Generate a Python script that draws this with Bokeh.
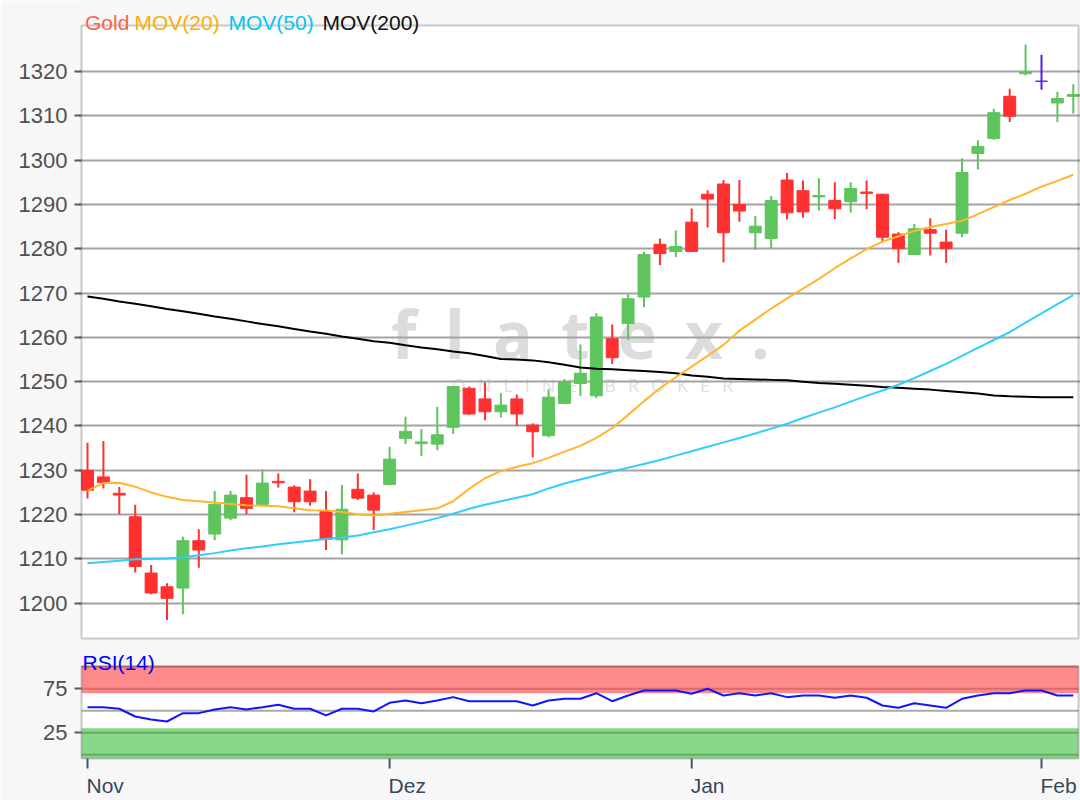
from bokeh.plotting import figure
from bokeh.models import (Range1d, FixedTicker, Label, LabelSet, BoxAnnotation,
                          ColumnDataSource, NumeralTickFormatter)
from bokeh.core.properties import value
from bokeh.embed import file_html
from bokeh.resources import INLINE

# ---------------- data ----------------
opens = [1230.0, 1228.5, 1224.8, 1219.5, 1206.8, 1203.7, 1203.4, 1214.1, 1215.6, 1219.2,
         1223.8, 1222.3, 1227.5, 1226.2, 1225.3, 1220.8, 1214.3, 1225.7, 1224.4, 1226.8,
         1237.2, 1236.0, 1235.9, 1239.7, 1248.5, 1246.1, 1243.2, 1246.1, 1240.2, 1237.8,
         1245.1, 1249.6, 1246.8, 1259.7, 1263.1, 1269.1, 1281.0, 1279.4, 1286.0, 1292.3,
         1294.6, 1290.0, 1283.6, 1282.3, 1295.5, 1293.1, 1291.7, 1290.9, 1290.6, 1292.8,
         1292.3, 1283.3, 1278.7, 1284.3, 1281.5, 1283.5, 1301.5, 1304.9, 1314.4, 1319.5,
         1317.8, 1312.9, 1314.4]
highs = [1236.2, 1236.6, 1226.2, 1222.2, 1208.6, 1204.5, 1215.0, 1216.7, 1225.3, 1225.3,
         1229.0, 1230.2, 1229.3, 1226.6, 1228.0, 1225.3, 1226.7, 1229.3, 1225.0, 1235.3,
         1242.1, 1239.3, 1244.3, 1249.0, 1248.9, 1249.8, 1247.4, 1247.1, 1240.6, 1248.3,
         1250.6, 1258.4, 1265.5, 1262.9, 1269.7, 1279.3, 1282.3, 1284.1, 1289.1, 1293.2,
         1295.5, 1295.5, 1287.4, 1291.9, 1297.1, 1295.4, 1295.9, 1295.0, 1295.0, 1295.4,
         1292.4, 1283.7, 1285.6, 1286.9, 1284.3, 1300.4, 1304.5, 1311.6, 1316.1, 1326.1,
         1323.8, 1315.4, 1317.1]
lows = [1223.6, 1225.9, 1220.1, 1206.9, 1202.0, 1196.2, 1197.5, 1208.0, 1214.2, 1218.7,
        1220.1, 1222.0, 1226.1, 1220.5, 1222.0, 1212.0, 1211.0, 1223.3, 1216.5, 1226.8,
        1235.9, 1233.2, 1234.5, 1238.2, 1242.5, 1241.3, 1241.9, 1240.0, 1232.9, 1237.4,
        1245.0, 1246.8, 1246.3, 1254.0, 1259.4, 1266.8, 1276.3, 1278.1, 1279.2, 1284.8,
        1276.9, 1286.1, 1279.7, 1280.1, 1286.6, 1287.0, 1288.6, 1286.7, 1288.2, 1288.9,
        1281.5, 1276.8, 1278.6, 1278.5, 1276.8, 1282.6, 1297.9, 1304.6, 1308.6, 1319.1,
        1315.9, 1308.6, 1310.5]
closes = [1225.5, 1227.2, 1224.4, 1208.3, 1202.3, 1201.1, 1214.1, 1212.0, 1222.3, 1224.4,
          1221.4, 1227.1, 1227.2, 1222.9, 1222.9, 1214.4, 1221.2, 1223.7, 1221.0, 1232.5,
          1238.8, 1236.4, 1238.0, 1248.9, 1242.7, 1243.2, 1244.7, 1242.7, 1238.7, 1246.5,
          1250.0, 1251.9, 1264.6, 1255.4, 1268.7, 1278.7, 1278.9, 1280.5, 1279.4, 1291.2,
          1283.6, 1288.5, 1285.1, 1290.9, 1288.1, 1288.3, 1292.0, 1289.0, 1293.6, 1292.5,
          1282.6, 1280.0, 1284.5, 1283.5, 1280.0, 1297.2, 1303.1, 1310.7, 1309.9, 1319.9,
          1317.8, 1313.9, 1314.8]

mov20 = [1225.4, 1227.1, 1227.2, 1226.3, 1225.0, 1224.0, 1223.3, 1223.0, 1222.7, 1222.4,
         1222.1, 1222.0, 1221.9, 1221.4, 1221.0, 1220.9, 1220.6, 1220.1, 1219.8, 1220.2,
         1220.6, 1221.0, 1221.4, 1223.0, 1225.8, 1228.2, 1229.8, 1230.8, 1231.6, 1232.8,
         1234.2, 1235.5, 1237.3, 1239.5, 1242.5, 1245.6, 1248.5, 1251.0, 1253.4, 1255.8,
         1258.3, 1261.5, 1264.0, 1266.5, 1268.8, 1271.0, 1273.2, 1275.6, 1277.8, 1279.9,
         1281.6, 1282.8, 1284.0, 1284.9, 1285.6, 1286.3, 1287.8, 1289.4, 1291.0, 1292.4,
         1294.0, 1295.3, 1296.7]
mov50 = [1209.0, 1209.3, 1209.6, 1209.9, 1210.0, 1210.1, 1210.3, 1210.8, 1211.3, 1211.9,
         1212.4, 1212.8, 1213.3, 1213.7, 1214.1, 1214.5, 1214.8, 1215.3, 1216.0, 1216.7,
         1217.5, 1218.3, 1219.2, 1220.2, 1221.3, 1222.2, 1223.0, 1223.8, 1224.6, 1225.9,
         1227.0, 1227.9, 1228.8, 1229.7, 1230.6, 1231.4, 1232.3, 1233.3, 1234.3, 1235.3,
         1236.3, 1237.3, 1238.3, 1239.4, 1240.5, 1241.8, 1243.0, 1244.2, 1245.5, 1246.8,
         1248.0, 1249.3, 1250.8, 1252.4, 1254.0, 1255.8, 1257.6, 1259.4, 1261.2, 1263.3,
         1265.4, 1267.5, 1269.5]
mov200 = [1269.2, 1268.7, 1268.1, 1267.6, 1267.0, 1266.4, 1265.9, 1265.3, 1264.7, 1264.2,
          1263.6, 1263.0, 1262.5, 1261.9, 1261.3, 1260.8, 1260.2, 1259.7, 1259.1, 1258.8,
          1258.2, 1257.7, 1257.3, 1256.8, 1256.4, 1255.8, 1255.1, 1255.0, 1254.8, 1254.4,
          1253.8, 1253.2, 1252.9, 1252.8, 1252.6, 1252.4, 1252.2, 1251.9, 1251.4, 1251.1,
          1250.7, 1250.6, 1250.5, 1250.4, 1250.3, 1250.0, 1249.7, 1249.5, 1249.3, 1249.1,
          1248.8, 1248.6, 1248.4, 1248.2, 1247.9, 1247.6, 1247.3, 1246.9, 1246.7, 1246.6,
          1246.5, 1246.5, 1246.5]
rsi14 = [54.1, 54.1, 52.3, 43.5, 40.1, 37.8, 47.3, 47.3, 51.5, 54.1,
         51.5, 54.1, 56.8, 52.3, 52.3, 44.7, 52.3, 52.3, 49.2, 59.1,
         61.7, 58.6, 61.7, 65.5, 60.9, 60.9, 60.9, 60.9, 56.0, 61.7,
         63.6, 63.6, 70.0, 60.9, 67.4, 73.1, 73.1, 73.1, 69.3, 75.0,
         67.4, 70.0, 67.4, 70.0, 65.5, 67.4, 67.4, 64.8, 67.4, 64.8,
         56.0, 53.4, 58.6, 56.0, 53.4, 63.6, 67.4, 70.0, 70.0, 73.1,
         73.1, 67.4, 67.4]

price_ticks = [1200, 1210, 1220, 1230, 1240, 1250, 1260, 1270, 1280, 1290, 1300, 1310, 1320]
price_lim = (1192.03, 1330.38)          # visible price range of the main panel
rsi_ticks = [25, 75]
rsi_lines = [0, 25, 50, 75, 100]
rsi_lim = (-4.3, 100.7)                 # visible range of the RSI panel
month_pos = [0, 19, 38, 60]             # candle index of first trading day of each month
month_labels = ["Nov", "Dez", "Jan", "Feb"]

# ---------------- layout (pixels) ----------------
W, H = 1080, 800
FRAME_L = 78
X0_PX, DX = 87.0, 15.9                 # x pixel of candle 0 and candle pitch
PANEL_L, PANEL_R = 81, 1078
MAIN_T, MAIN_B = 25, 638
RSI_T, RSI_B = 665.7, 758

FONT = "Liberation Sans"
BG = "#f7f7f7"
FRAME = "#5a5a5a"
GRID = "#a3a3a3"
UP, DOWN, FLAT = "#5ec45e", "#ff3030", "#5a1ee0"

def xdata(px):
    return (px - X0_PX) / DX

s_p = (MAIN_B - MAIN_T) / (price_lim[1] - price_lim[0])
s_r = (RSI_B - RSI_T) / (rsi_lim[1] - rsi_lim[0])

def price_at(py):
    return price_lim[1] - (py - MAIN_T) / s_p

def rsi_at(py):
    return rsi_lim[1] - (py - RSI_T) / s_r

def rsi_as_price(v):
    return round(price_at(RSI_T + (rsi_lim[1] - v) * s_r), 4)

n = len(opens)
idx = list(range(n))
colors = [UP if c > o else (DOWN if c < o else FLAT) for o, c in zip(opens, closes)]
src = ColumnDataSource(dict(
    x=idx, high=highs, low=lows,
    top=[max(o, c) for o, c in zip(opens, closes)],
    bottom=[min(o, c) for o, c in zip(opens, closes)],
    color=colors))

p = figure(width=W, height=H,
           x_range=Range1d(xdata(FRAME_L), xdata(W)),
           y_range=Range1d(price_at(H), price_at(0)),
           output_backend="svg", toolbar_location=None, x_axis_location=None,
           min_border_left=FRAME_L, min_border_right=0, min_border_top=0, min_border_bottom=0,
           background_fill_color=BG, border_fill_color=BG, outline_line_color=None)
p.extra_y_ranges = {"rsi": Range1d(rsi_at(H), rsi_at(0))}

# panel backgrounds
pl, pr = xdata(PANEL_L), xdata(PANEL_R)
p.add_layout(BoxAnnotation(left=pl, right=pr, bottom=price_lim[0], top=price_lim[1],
                           fill_color="white", fill_alpha=1, line_color=None, level="image"))
p.add_layout(BoxAnnotation(left=pl, right=pr, bottom=rsi_lim[0], top=rsi_lim[1], y_range_name="rsi",
                           fill_color="white", fill_alpha=1, line_color=None, level="image"))
p.add_layout(BoxAnnotation(left=pl, right=pr, bottom=70, top=rsi_lim[1], y_range_name="rsi",
                           fill_color="#ff8a8a", fill_alpha=1, line_color=None, level="image"))
p.add_layout(BoxAnnotation(left=pl, right=pr, bottom=rsi_lim[0], top=30, y_range_name="rsi",
                           fill_color="#8ad68a", fill_alpha=1, line_color=None, level="image"))

# watermark
p.add_layout(Label(x=580 - FRAME_L, y=H - 332, x_units="screen", y_units="screen",
                   text=" \u2009".join("flatex."),
                   text_font="Open Sans", text_font_style="bold", text_font_size="66px",
                   text_color="#dcdcdc", text_align="center", text_baseline="alphabetic",
                   level="image"))
p.add_layout(Label(x=592 - FRAME_L, y=H - 384, x_units="screen", y_units="screen",
                   text="\u2002\u2009".join("ONLINE") + "\u2002\u2002\u2002" + "\u2002\u2009".join("BROKER"),
                   text_font="Open Sans", text_font_size="18px", text_color="#e0e0e0",
                   text_align="center", text_baseline="alphabetic", level="image"))

# grid of price panel
p.xgrid.grid_line_color = None
p.ygrid.ticker = FixedTicker(ticks=price_ticks)
p.ygrid.grid_line_color = GRID
p.ygrid.grid_line_width = 2

# single left axis carrying price ticks and RSI ticks
rsi_tick_prices = [rsi_as_price(v) for v in rsi_ticks]
p.yaxis.ticker = FixedTicker(ticks=price_ticks + rsi_tick_prices)
p.yaxis.formatter = NumeralTickFormatter(format="0")
p.yaxis.major_label_overrides = {tp: str(v) for tp, v in zip(rsi_tick_prices, rsi_ticks)}
p.yaxis.axis_line_color = None
p.yaxis.major_tick_out = 4
p.yaxis.major_tick_in = 3
p.yaxis.major_tick_line_color = FRAME
p.yaxis.major_tick_line_width = 2
p.yaxis.minor_tick_line_color = None
p.yaxis.major_label_standoff = 7
p.yaxis.major_label_text_font = FONT
p.yaxis.major_label_text_font_size = "22px"
p.yaxis.major_label_text_color = "#505050"

# RSI reference lines
rl_colors = {100: "#dc6a6a", 75: "#dc6a6a", 50: "#aaaaaa", 25: "#5fae5f", 0: "#5fae5f"}
p.segment(x0=[pl] * len(rsi_lines), x1=[pr] * len(rsi_lines), y0=rsi_lines, y1=rsi_lines,
          line_color=[rl_colors[v] for v in rsi_lines], line_width=2, y_range_name="rsi")

# candles
p.segment(x0="x", y0="low", x1="x", y1="high", source=src, line_color="color", line_width=2)
p.vbar(x="x", width=0.75, top="top", bottom="bottom", source=src,
       fill_color="color", line_color="color", line_width=1)

# moving averages
p.line(idx, mov200, line_color="black", line_width=2)
p.line(idx, mov50, line_color="#33ccff", line_width=2)
p.line(idx, mov20, line_color="#ffb52e", line_width=2)

# RSI
p.line(idx, rsi14, line_color="#1414ff", line_width=2, y_range_name="rsi")

# panel frames
p.add_layout(BoxAnnotation(left=pl, right=pr, bottom=price_lim[0], top=price_lim[1],
                           fill_alpha=0, line_color=FRAME, line_width=2, level="annotation"))
p.add_layout(BoxAnnotation(left=pl, right=pr, bottom=rsi_lim[0], top=rsi_lim[1], y_range_name="rsi",
                           fill_alpha=0, line_color=FRAME, line_width=2, level="annotation"))

# month ticks and labels
p.segment(x0=month_pos, x1=month_pos, y0=[rsi_at(RSI_B)] * 4, y1=[rsi_at(RSI_B + 10)] * 4,
          line_color="#40556a", line_width=2, y_range_name="rsi")
msrc = ColumnDataSource(dict(x=month_pos, text=month_labels))
p.add_layout(LabelSet(x="x", y=H - 785, y_units="screen", text="text", source=msrc, x_offset=-1,
                      text_font=value(FONT), text_font_size=value("21px"), text_color=value("#34495e"),
                      text_align="left", text_baseline="middle"))

# header texts
for px, txt, col in [(84.5, "Gold", "#ff6347"), (134, "MOV(20)", "#ffad00"),
                     (228, "MOV(50)", "#00c8f0"), (322, "MOV(200)", "#111111")]:
    p.add_layout(Label(x=px - FRAME_L, y=H - 21.5, x_units="screen", y_units="screen", text=txt,
                       text_font=FONT, text_font_size="21px", text_color=col,
                       text_baseline="alphabetic"))
p.add_layout(Label(x=82 - FRAME_L, y=H - 662, x_units="screen", y_units="screen", text="RSI(14)",
                   text_font=FONT, text_font_size="21px", text_color="#0000ff",
                   text_baseline="alphabetic"))

open("out.html", "w").write(file_html(p, INLINE))
